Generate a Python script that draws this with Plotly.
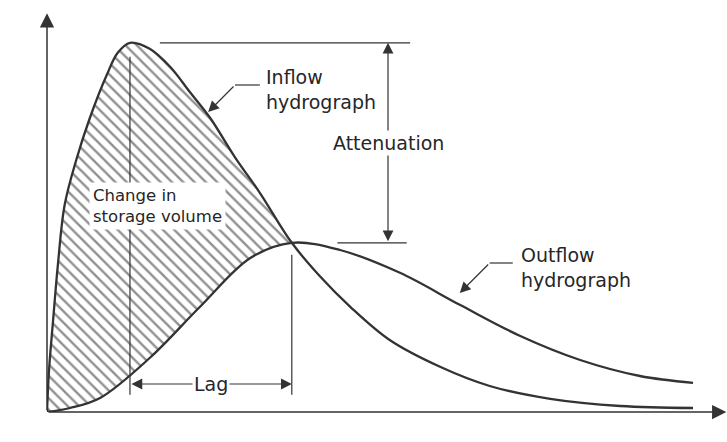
import numpy as np
import plotly.graph_objects as go

# Inflow hydrograph: time and discharge (arbitrary units)
inflow_t = [0.00, 0.03, 0.09, 0.16, 0.26, 0.43, 0.63, 0.88, 1.04, 1.22, 1.51, 1.81,
            2.10, 2.40, 2.76, 3.13, 3.60, 4.01, 4.46, 5.04, 5.78, 6.51, 7.40, 8.43,
            9.50]
inflow_q = [0.00, 1.05, 2.30, 3.68, 5.18, 6.30, 7.35, 8.43, 8.98, 9.23, 9.08, 8.63,
            8.00, 7.35, 6.38, 5.48, 4.23, 3.40, 2.63, 1.80, 1.13, 0.65, 0.33, 0.15,
            0.10]

# Outflow hydrograph: time and discharge
outflow_t = [0.00, 0.34, 0.78, 1.51, 2.25, 2.99, 3.60, 4.31, 5.19, 6.07, 6.96,
             7.84, 8.72, 9.50]
outflow_q = [0.00, 0.10, 0.35, 1.35, 2.63, 3.85, 4.23, 4.05, 3.48, 2.68, 1.90,
             1.30, 0.90, 0.73]

labels = {
    "x": "Time",
    "y": "Discharge",
    "inflow": "Inflow<br>hydrograph",
    "outflow": "Outflow<br>hydrograph",
    "storage": "Change in<br>storage volume",
    "atten": "Attenuation",
    "lag": "Lag",
}

FONT = "DejaVu Sans"
INK = "#262626"
LINE = "#333333"

it = np.array(inflow_t); iq = np.array(inflow_q)
ot = np.array(outflow_t); oq = np.array(outflow_q)

# peaks
ip = int(np.argmax(iq)); op = int(np.argmax(oq))
t_in_pk, q_in_pk = it[ip], iq[ip]
t_out_pk, q_out_pk = ot[op], oq[op]

# the outflow peaks where it meets the falling inflow limb
mask_in = it <= t_out_pk
mask_out = ot <= t_out_pk

curve = dict(shape="spline", smoothing=1, simplify=False)

fig = go.Figure()

# hatched storage area between the inflow and the outflow
fig.add_trace(go.Scatter(x=ot[mask_out], y=oq[mask_out], mode="lines",
                         line=dict(curve, width=0),
                         hoverinfo="skip", showlegend=False))
fig.add_trace(go.Scatter(x=it[mask_in], y=iq[mask_in], mode="lines",
                         line=dict(curve, width=0),
                         fill="tonexty", fillcolor="white",
                         fillpattern=dict(shape="\\", size=8, solidity=0.3,
                                          fgcolor="#222222", bgcolor="white"),
                         hoverinfo="skip", showlegend=False))

# the two hydrographs
fig.add_trace(go.Scatter(x=it, y=iq, mode="lines",
                         line=dict(curve, color=LINE, width=2.3),
                         showlegend=False, name="Inflow"))
fig.add_trace(go.Scatter(x=ot, y=oq, mode="lines",
                         line=dict(curve, color=LINE, width=2.3),
                         showlegend=False, name="Outflow"))

thin = dict(color=LINE, width=1.2)
shapes = [
    # peak reference lines
    dict(type="line", x0=1.66, x1=5.34, y0=q_in_pk, y1=q_in_pk, line=thin),
    dict(type="line", x0=4.27, x1=5.29, y0=q_out_pk, y1=q_out_pk, line=thin),
    # verticals below each peak
    dict(type="line", x0=t_in_pk, x1=t_in_pk, y0=0.43, y1=q_in_pk - 0.35, line=thin),
    dict(type="line", x0=t_out_pk, x1=t_out_pk, y0=0.43, y1=q_out_pk - 0.3, line=thin),
    # leader stubs
    dict(type="line", x0=2.765, x1=3.13, y0=8.175, y1=8.175, line=thin),
    dict(type="line", x0=6.51, x1=6.85, y0=3.725, y1=3.725, line=thin),
]

arrow = dict(text="", showarrow=True, axref="x", ayref="y", xref="x", yref="y",
             arrowcolor=LINE, standoff=0, startstandoff=0)

ann = [
    # axes
    dict(arrow, x=9.99, y=0, ax=0, ay=0, arrowhead=2, arrowsize=1.9, arrowwidth=1.5),
    dict(arrow, x=0, y=9.97, ax=0, ay=0, arrowhead=2, arrowsize=1.9, arrowwidth=1.5),
    # attenuation double arrow
    dict(arrow, x=5.015, y=q_in_pk, ax=5.015, ay=q_out_pk, arrowhead=2,
         startarrowhead=2, arrowside="end+start", arrowsize=1.8, startarrowsize=1.8,
         arrowwidth=1.2),
    # lag double arrow
    dict(arrow, x=t_out_pk, y=0.70, ax=t_in_pk, ay=0.70, arrowhead=2,
         startarrowhead=2, arrowside="end+start", arrowsize=1.8, startarrowsize=1.8,
         arrowwidth=1.2),
    # leader arrows
    dict(arrow, x=2.37, y=7.5, ax=2.765, ay=8.175, arrowhead=2, arrowsize=1.8,
         arrowwidth=1.2),
    dict(arrow, x=6.07, y=2.975, ax=6.51, ay=3.725, arrowhead=2, arrowsize=1.8,
         arrowwidth=1.2),
]

txt = dict(showarrow=False, xref="x", yref="y",
           font=dict(family=FONT, size=19, color=INK))
ann += [
    dict(txt, text=labels["atten"], x=5.015, y=(q_in_pk + q_out_pk) / 2,
         bgcolor="white", borderpad=1),
    dict(txt, text=labels["lag"], x=(t_in_pk + t_out_pk) / 2, y=0.70,
         bgcolor="white", borderpad=1),
    dict(txt, text=labels["storage"], x=0.62, y=5.15, xanchor="left", align="left",
         bgcolor="white", borderpad=3, font=dict(family=FONT, size=16.5, color=INK)),
    dict(txt, text=labels["inflow"], x=3.19, y=8.075, xanchor="left", align="left"),
    dict(txt, text=labels["outflow"], x=6.94, y=3.625, xanchor="left", align="left"),
    dict(txt, text=labels["x"], x=4.78, y=-0.5),
    dict(txt, text=labels["y"], x=-0.44, y=4.925, textangle=-90),
]

fig.update_layout(
    width=727, height=442,
    margin=dict(l=47, r=0, t=12, b=30),
    paper_bgcolor="white", plot_bgcolor="white",
    xaxis=dict(range=[0, 10], visible=False, fixedrange=True),
    yaxis=dict(range=[0, 10], visible=False, fixedrange=True),
    shapes=shapes, annotations=ann, showlegend=False,
)

fig.write_html("out.html")
